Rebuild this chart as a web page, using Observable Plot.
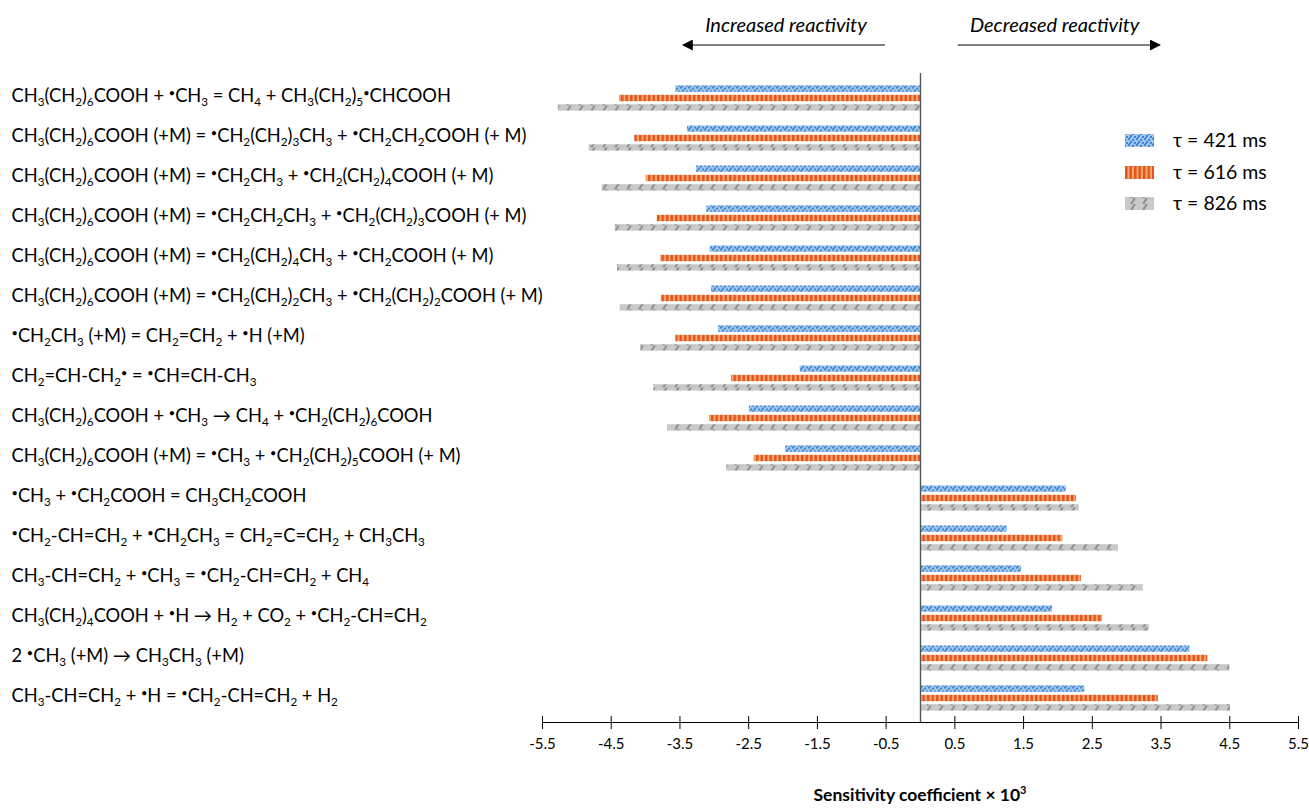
<!DOCTYPE html>
<html>
<head>
<meta charset="utf-8">
<script src="https://cdn.jsdelivr.net/npm/d3@7"></script>
<script src="https://cdn.jsdelivr.net/npm/@observablehq/plot@0.6"></script>
<style>
  html, body { margin: 0; padding: 0; background: #fff; }
  #chart { position: relative; width: 1309px; height: 811px; }
</style>
</head>
<body>
<div id="chart"></div>
<script>
// ---- data (top to bottom); "_x" = subscript char, "^•" = superscript radical dot
const reactions = [
  "CH_3(CH_2)_6COOH + ^•CH_3 = CH_4 + CH_3(CH_2)_5^•CHCOOH",
  "CH_3(CH_2)_6COOH (+M) = ^•CH_2(CH_2)_3CH_3 + ^•CH_2CH_2COOH (+ M)",
  "CH_3(CH_2)_6COOH (+M) = ^•CH_2CH_3 + ^•CH_2(CH_2)_4COOH (+ M)",
  "CH_3(CH_2)_6COOH (+M) = ^•CH_2CH_2CH_3 + ^•CH_2(CH_2)_3COOH (+ M)",
  "CH_3(CH_2)_6COOH (+M) = ^•CH_2(CH_2)_4CH_3 + ^•CH_2COOH (+ M)",
  "CH_3(CH_2)_6COOH (+M) = ^•CH_2(CH_2)_2CH_3 + ^•CH_2(CH_2)_2COOH (+ M)",
  "^•CH_2CH_3 (+M) = CH_2=CH_2 + ^•H (+M)",
  "CH_2=CH-CH_2^• = ^•CH=CH-CH_3",
  "CH_3(CH_2)_6COOH + ^•CH_3 \u2192 CH_4 + ^•CH_2(CH_2)_6COOH",
  "CH_3(CH_2)_6COOH (+M) = ^•CH_3 + ^•CH_2(CH_2)_5COOH (+ M)",
  "^•CH_3 + ^•CH_2COOH = CH_3CH_2COOH",
  "^•CH_2-CH=CH_2 + ^•CH_2CH_3 = CH_2=C=CH_2 + CH_3CH_3",
  "CH_3-CH=CH_2 + ^•CH_3 = ^•CH_2-CH=CH_2 + CH_4",
  "CH_3(CH_2)_4COOH + ^•H \u2192 H_2 + CO_2 + ^•CH_2-CH=CH_2",
  "2 ^•CH_3 (+M) \u2192 CH_3CH_3 (+M)",
  "CH_3-CH=CH_2 + ^•H = ^•CH_2-CH=CH_2 + H_2"
];
const seriesNames = ["\u03c4 = 421 ms", "\u03c4 = 616 ms", "\u03c4 = 826 ms"];
const tau421 = [-3.56, -3.39, -3.26, -3.11, -3.06, -3.04, -2.94, -1.75, -2.49, -1.96, 2.12, 1.26, 1.47, 1.92, 3.92, 2.39];
const tau616 = [-4.38, -4.16, -3.99, -3.83, -3.78, -3.77, -3.56, -2.75, -3.07, -2.42, 2.27, 2.07, 2.34, 2.65, 4.18, 3.46];
const tau826 = [-5.27, -4.82, -4.63, -4.44, -4.41, -4.37, -4.07, -3.88, -3.68, -2.82, 2.31, 2.88, 3.24, 3.33, 4.50, 4.51];
const xTicks = [-5.5, -4.5, -3.5, -2.5, -1.5, -0.5, 0.5, 1.5, 2.5, 3.5, 4.5, 5.5];
const xDomain = [-5.5, 5.5];
const axisTitle = "Sensitivity coefficient \u00d7 10";
const annotations = [
  {label: "Increased reactivity", x: -1.95, from: -0.51, to: -3.45},
  {label: "Decreased reactivity", x: 1.96, from: 0.55, to: 3.49}
];

// ---- build table
const patIds = ["pat421", "pat616", "pat826"];
const seriesValues = [tau421, tau616, tau826];
const table = [];
seriesValues.forEach((vals, s) => vals.forEach((v, i) => table.push({reaction: reactions[i], series: seriesNames[s], s, value: v})));

const FONT = "Lato, 'Open Sans', sans-serif";
const LABEL_SIZE = 18.3;
const offsets = [-9.4, 0, 9.4];

const plot = Plot.plot({
  width: 1309,
  height: 811,
  marginLeft: 542,
  marginRight: 11,
  marginTop: 73,
  marginBottom: 89,
  style: {fontFamily: FONT, fontSize: "15px", color: "#000", background: "#fff"},
  x: {domain: xDomain, axis: null, label: null},
  y: {domain: reactions, padding: 0, axis: null},
  marks: [
    ...seriesValues.map((_, s) => Plot.barX(table.filter(d => d.s === s), {
      x: "value", y: "reaction", fill: `url(#${patIds[s]})`,
      insetTop: 16.8, insetBottom: 16.8, dy: offsets[s]
    })),
    Plot.ruleX([0], {stroke: "#555", strokeWidth: 1.4}),
    Plot.axisX({ticks: xTicks, tickSize: 13, dy: -6, tickPadding: 9, tickFormat: d => String(d), fontSize: 15, stroke: "#000", label: null}),
    Plot.frame({anchor: "bottom", stroke: "#000"}),
    Plot.text(reactions, {y: d => d, text: d => d, frameAnchor: "left", textAnchor: "start", dx: -531, dy: -2, fontSize: LABEL_SIZE, fill: "#000"})
  ]
});

document.getElementById("chart").appendChild(plot);
const svg = d3.select(plot);
const xs = plot.scale("x");

// ---- rich text (subscripts / superscript dots)
svg.selectAll("text").each(function() {
  const t = this.textContent;
  if (!/[_^]/.test(t)) return;
  const el = d3.select(this);
  el.text(null);
  let shift = 0;
  const base = LABEL_SIZE;
  const runs = [];
  let cur = {kind: "n", s: ""};
  for (let i = 0; i < t.length; i++) {
    const c = t[i];
    if ((c === "_" || c === "^") && i + 1 < t.length) {
      if (cur.s) runs.push(cur);
      runs.push({kind: c === "_" ? "sub" : "sup", s: t[i + 1]});
      cur = {kind: "n", s: ""};
      i++;
    } else cur.s += c;
  }
  if (cur.s) runs.push(cur);
  runs.forEach(r => {
    const target = r.kind === "sub" ? 0.22 * base : r.kind === "sup" ? -0.3 * base : 0;
    const ts = el.append("tspan").text(r.s).attr("dy", target - shift);
    if (r.kind !== "n") ts.attr("font-size", r.kind === "sub" ? base * 0.64 : base * 0.6);
    shift = target;
  });
});

// ---- patterns
const defs = svg.insert("defs", ":first-child");
const p1 = defs.append("pattern").attr("id", "pat421").attr("patternUnits", "userSpaceOnUse").attr("width", 8).attr("height", 6);
p1.append("rect").attr("width", 8).attr("height", 6).attr("fill", "#9ec5ec");
[[0,0],[4,1],[2,3],[6,4],[1,5]].forEach(([x,y]) => p1.append("rect").attr("x", x).attr("y", y).attr("width", 2).attr("height", 1.8).attr("fill", "#3a7fd0"));
const p2 = defs.append("pattern").attr("id", "pat616").attr("patternUnits", "userSpaceOnUse").attr("width", 4.5).attr("height", 10);
p2.append("rect").attr("width", 4.5).attr("height", 10).attr("fill", "#f5a872");
p2.append("rect").attr("width", 2.5).attr("height", 10).attr("fill", "#e2561d");
const p3 = defs.append("pattern").attr("id", "pat826").attr("patternUnits", "userSpaceOnUse").attr("width", 12).attr("height", 6);
p3.append("rect").attr("width", 12).attr("height", 6).attr("fill", "#c9c9c9");
p3.append("line").attr("x1", 3).attr("y1", 6.5).attr("x2", 7).attr("y2", -0.5).attr("stroke", "#8d8d8d").attr("stroke-width", 2);

// ---- top annotations
const ann = svg.append("g").attr("font-family", FONT).attr("text-anchor", "middle");
defs.append("marker").attr("id", "ah").attr("viewBox", "0 0 10 10").attr("refX", 9).attr("refY", 5)
  .attr("markerWidth", 11).attr("markerHeight", 11).attr("markerUnits", "userSpaceOnUse").attr("orient", "auto")
  .append("path").attr("d", "M0,0L10,5L0,10Z").attr("fill", "#000");
annotations.forEach(a => {
  ann.append("text").attr("x", xs.apply(a.x)).attr("y", 32).attr("text-anchor", "middle")
    .attr("font-style", "italic").attr("font-size", 20).text(a.label);
  ann.append("line").attr("x1", xs.apply(a.from)).attr("x2", xs.apply(a.to)).attr("y1", 45).attr("y2", 45)
    .attr("stroke", "#000").attr("stroke-width", 1).attr("marker-end", "url(#ah)");
});

// ---- axis title
const at = svg.append("text").attr("x", xs.apply(0)).attr("y", 801).attr("text-anchor", "middle")
  .attr("font-family", FONT).attr("font-weight", "bold").attr("font-size", 17.5).text(axisTitle);
at.append("tspan").attr("dy", -7).attr("font-size", 11).text("3");

// ---- legend
const lg = svg.append("g").attr("font-family", FONT).attr("text-anchor", "start");
const legendY = [141, 173, 204];
seriesNames.forEach((name, s) => {
  lg.append("rect").attr("x", 1125).attr("y", legendY[s] - 7).attr("width", 29).attr("height", 13).attr("fill", `url(#${patIds[s]})`);
  lg.append("text").attr("x", 1173).attr("y", legendY[s] + 6).attr("text-anchor", "start").attr("font-size", 19.5).text(name);
});
</script>
</body>
</html>
